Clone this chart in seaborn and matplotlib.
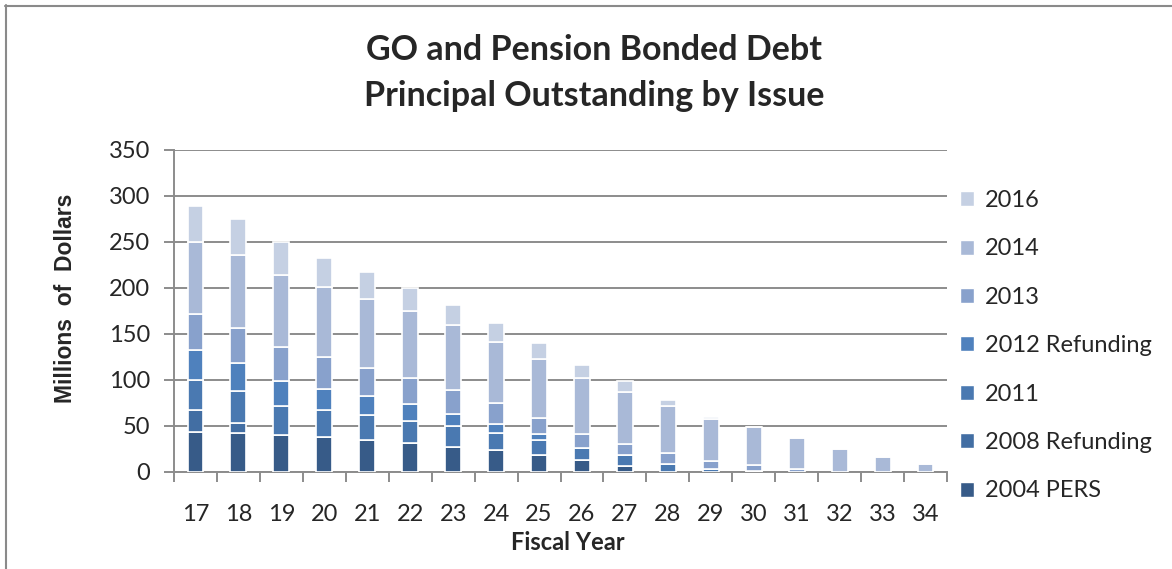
import matplotlib
matplotlib.use("Agg")
import matplotlib.pyplot as plt
import seaborn as sns
import numpy as np
from matplotlib.patches import Patch
from matplotlib.lines import Line2D

years = ["17", "18", "19", "20", "21", "22", "23", "24", "25", "26", "27", "28", "29", "30", "31", "32", "33", "34"]
pers_2004 = [44, 42, 40, 38, 34.5, 31, 27, 23.5, 19, 13.5, 7, 0, 0, 0, 0, 0, 0, 0]
ref_2008 = [23.5, 11, 0, 0, 0, 0, 0, 0, 0, 0, 0, 0, 0, 0, 0, 0, 0, 0]
iss_2011 = [33, 35, 32, 29, 27, 24.5, 22.5, 19, 16, 13, 11, 9, 3.5, 1.5, 0, 0, 0, 0]
ref_2012 = [32, 30, 27, 23.5, 21, 18, 14, 9.5, 6, 0, 0, 0, 0, 0, 0, 0, 0, 0]
iss_2013 = [39.5, 38.5, 37, 34.5, 31, 29, 25.5, 22.5, 18, 15, 12.5, 11.5, 9, 6.5, 3, 0, 0, 0]
iss_2014 = [78.5, 79, 78, 76, 74.5, 72, 70.5, 67, 64, 61, 57, 51, 45, 41, 34.5, 25.5, 16.5, 8.5]
iss_2016 = [38.5, 39, 35.5, 31.5, 29.5, 26, 22, 20, 17.5, 14, 11.5, 7, 2.5, 0, 0, 0, 0, 0]

series_names = ["2004 PERS", "2008 Refunding", "2011", "2012 Refunding", "2013", "2014", "2016"]
series_vals = [pers_2004, ref_2008, iss_2011, ref_2012, iss_2013, iss_2014, iss_2016]
colors = ["#375b88", "#426ea3", "#4a79b1", "#4f81bd", "#88a1cc", "#a9b9d7", "#c5d0e3"]

sns.set_style("white")
plt.rcParams["font.family"] = ["Lato", "DejaVu Sans"]

W, H = 1172, 569
fig = plt.figure(figsize=(W / 100, H / 100), dpi=100)
ax = fig.add_axes([174 / W, 1 - 472 / H, (947 - 174) / W, (472 - 150) / H])

cum = np.zeros(len(years))
for name, vals, col in zip(series_names, series_vals, colors):
    v = np.array(vals, dtype=float)
    sns.barplot(x=years, y=v, order=years, bottom=cum, color=col, width=0.37,
                edgecolor="white", linewidth=1.2, errorbar=None, ax=ax,
                saturation=1, zorder=3)
    cum = cum + v

ax.set_xlim(-0.5, len(years) - 0.5)
ax.set_ylim(0, 350)
ax.set_yticks(np.arange(0, 351, 50))
ax.yaxis.grid(True, color="#8c8c8c", linewidth=1.4, zorder=0)
ax.set_axisbelow(True)
for s in ["top", "right"]:
    ax.spines[s].set_visible(False)
for s in ["left", "bottom"]:
    ax.spines[s].set_color("#8c8c8c")
    ax.spines[s].set_linewidth(1.4)

ax.tick_params(axis="y", which="major", length=7, width=1.4, color="#8c8c8c",
               labelsize=17, pad=10, left=True)
ax.tick_params(axis="x", which="major", length=0, labelsize=17, pad=23)
ax.set_xticks(np.arange(-0.5, len(years), 1), minor=True)
ax.tick_params(axis="x", which="minor", length=7, width=1.4, color="#8c8c8c", bottom=True)
ax.set_xlabel("")
ax.set_ylabel("")

fig.text(568 / W, 1 - 543 / H, "Fiscal Year", ha="center", va="center",
         fontsize=17, fontweight="bold")
fig.text(66 / W, 1 - 298 / H, "Millions  of  Dollars", ha="center", va="center",
         rotation=90, fontsize=16.5, fontweight="bold",
         family=["Liberation Sans", "DejaVu Sans"])

fig.text(594 / W, 1 - 50 / H, "GO and Pension Bonded Debt", ha="center", va="center",
         fontsize=24.5, fontweight="bold")
fig.text(594 / W, 1 - 96 / H, "Principal Outstanding by Issue", ha="center", va="center",
         fontsize=24.5, fontweight="bold")

handles = [Patch(facecolor=c, edgecolor="white", label=n) for n, c in zip(series_names, colors)][::-1]
fig.legend(handles=handles, loc="upper left", bbox_to_anchor=(960 / W, 1 - 190 / H),
           frameon=False, fontsize=17, handlelength=0.6, handleheight=0.6,
           handletextpad=0.45, labelspacing=1.16, borderaxespad=0, borderpad=0)

fig.add_artist(Line2D([5 / W, 1.0], [1 - 5.5 / H, 1 - 5.5 / H], transform=fig.transFigure,
                      color="#8a8a8a", linewidth=1.5))
fig.add_artist(Line2D([5.5 / W, 5.5 / W], [0, 1 - 5 / H], transform=fig.transFigure,
                      color="#8a8a8a", linewidth=1.5))

fig.savefig("out.png", dpi=100)
